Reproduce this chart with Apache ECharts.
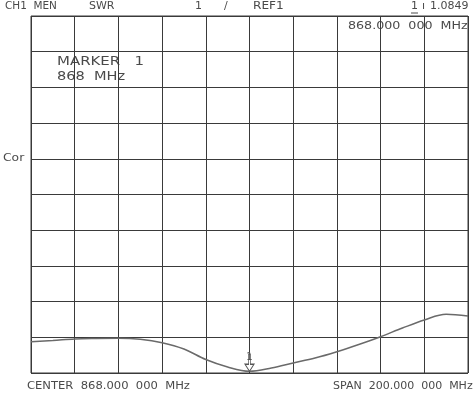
<!DOCTYPE html>
<html><head><meta charset="utf-8">
<script src="https://cdn.jsdelivr.net/npm/echarts@6/dist/echarts.min.js"></script>
<style>html,body{margin:0;padding:0;background:#fff}#c{width:476px;height:396px}</style>
</head><body><div id="c"></div>
<script>
// Trace: frequency (MHz) and SWR values
const freqs = [768,778,788,798,808,818,828,838,848,858,868,878,888,898,908,918,928,938,948,958,968];
const swr = [1.1677,1.1710,1.1752,1.1766,1.1772,1.1744,1.1649,1.1472,1.1178,1.0968,1.0849,1.0940,1.1080,1.1220,1.1397,1.1598,1.1817,1.2060,1.2285,1.2444,1.2397];
const markerFreq = 868;
const markerValue = 1.0849;
const freqMin = 768, freqMax = 968;
const swrMin = 1.08, swrMax = 2.08;
const divisions = 10;

const chart = echarts.init(document.getElementById('c'), null, {renderer:'canvas'});
const font = 'DejaVu Sans';
const txt = '#4a4a4a';
const gridColor = '#3a3a3a';
function t(x, y, text, size, sx){
  return {type:'text', x:x, y:y, scaleX:sx||1, style:{text:text, fill:txt, font:(size||11)+'px "'+font+'"'}};
}
chart.setOption({
  animation:false,
  backgroundColor:'#fff',
  grid:{left:31, top:16, width:437, height:357, show:true, borderColor:gridColor, borderWidth:1},
  xAxis:[
    {type:'value', min:freqMin, max:freqMax, show:false, splitLine:{show:false}},
    {type:'value', min:0, max:divisions, interval:1, axisLabel:{show:false}, axisTick:{show:false}, axisLine:{show:false},
     splitLine:{show:true, lineStyle:{color:gridColor, width:1}}}
  ],
  yAxis:[
    {type:'value', min:swrMin, max:swrMax, show:false, splitLine:{show:false}},
    {type:'value', min:0, max:divisions, interval:1, axisLabel:{show:false}, axisTick:{show:false}, axisLine:{show:false},
     splitLine:{show:true, lineStyle:{color:gridColor, width:1}}}
  ],
  series:[{
    type:'line', xAxisIndex:0, yAxisIndex:0, smooth:0.35, symbol:'none',
    lineStyle:{color:'#6a6a6a', width:1.5},
    data: freqs.map((f,i)=>[f, swr[i]]),
    markPoint:{
      symbol:'path://M4,0L6,0L6,10L10,10L5,17L0,10L4,10Z',
      symbolSize:[9,17], symbolOffset:[0,'-50%'],
      itemStyle:{color:'#fff', borderColor:'#555', borderWidth:1},
      label:{show:true, position:'insideTop', offset:[0,-6], formatter:'1', fontSize:10, color:'#555', fontFamily:font},
      data:[{coord:[markerFreq, markerValue]}]
    }
  }],
  graphic:[
    t(5,1,'CH1  MEN',11,0.95),
    t(89,1,'SWR'),
    t(195,1,'1'),
    t(224,1,'/'),
    t(253,1,'REF1',11,1.1),
    t(411,1,'1',11),
    t(422,1,'ı',11),
    t(430,1,'1.0849',11),
    {type:'line', shape:{x1:411,y1:13,x2:418,y2:13}, style:{stroke:txt, lineWidth:1}},
    t(348,21,'868.000  000  MHz',11,1.15),
    t(57,55,'MARKER   1',13,1.15),
    t(57,70,'868  MHz',13,1.12),
    t(3,153,'Cor',11,1.12),
    t(27,381,'CENTER  868.000  000  MHz',11,1.05),
    t(333,381,'SPAN  200.000  000  MHz',11,1.0)
  ]
});
</script></body></html>
